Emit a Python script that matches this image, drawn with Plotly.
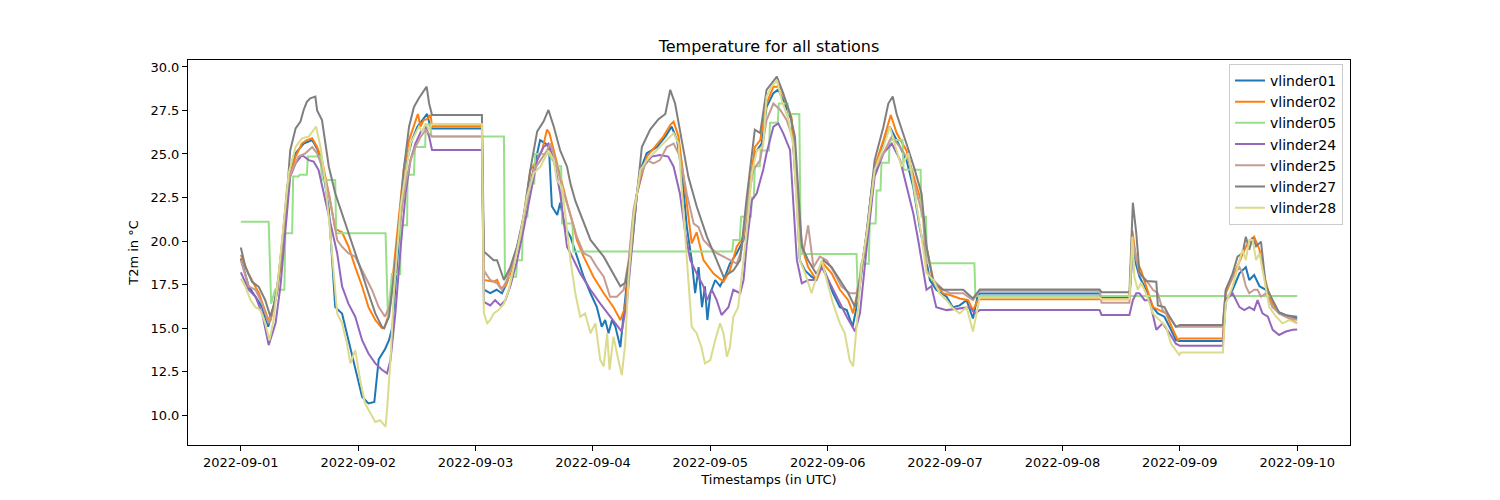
import pandas as pd
import plotly.graph_objects as go

START = "2022-09-01 00:00"

stations = ["vlinder01", "vlinder02", "vlinder05", "vlinder24", "vlinder25", "vlinder27", "vlinder28"]

v01_hours = [0, 1.6, 3.0, 4.35, 5.6, 6.7, 7.75, 8.8, 9.8, 11.2, 12.85, 14.6, 15.6, 16.6, 18, 19.3, 20.7, 22, 23.4, 24.8, 26.1, 27.3, 28.2, 29.5, 30.3, 31.0, 32, 33, 34, 35, 36.1, 37.1, 38.1, 38.7, 39.1, 49.3, 49.7, 51.0, 52.3, 53.4, 54.4, 55.8, 57.2, 58.5, 59.9, 61.2, 62.3, 63.0, 63.6, 64.7, 65.3, 66.3, 67.4, 68.7, 70.1, 71.5, 72.8, 73.8, 74.5, 75.2, 75.9, 76.6, 77.6, 78.3, 79.3, 80.3, 81.7, 83, 85.1, 86.8, 88.1, 89.2, 90.2, 91.2, 92.2, 92.9, 93.6, 94.3, 94.9, 95.4, 96, 97, 98, 99, 100, 101.4, 102.8, 104.1, 105.1, 106.5, 107.5, 108.9, 109.9, 110.9, 112.6, 113.7, 114.3, 115.4, 116.7, 117.7, 118.8, 119.8, 121.1, 122.5, 123.9, 125.1, 126.2, 127.6, 129.3, 131.4, 132.7, 134.1, 136.1, 137.5, 138.8, 139.9, 140.9, 142.2, 144.3, 145.6, 147, 148.4, 149.7, 150.7, 151.1, 175.6, 176, 181.7, 182.4, 183.1, 183.75, 185.1, 186.5, 187.5, 188.85, 190.2, 191.2, 191.9, 200.8, 201.4, 202.8, 204.2, 205.5, 206.2, 207.2, 208.3, 209.6, 211, 212.3, 213.7, 216]
v01_temp = [19.0, 17.4, 16.8, 16.2, 15.07, 16.2, 17.95, 20.06, 23.5, 25.04, 25.6, 25.8, 25.3, 24.46, 21.8, 16.2, 15.84, 14.3, 12.6, 11.05, 10.67, 10.75, 13.2, 13.8, 14.3, 15.07, 18.9, 22.4, 24.65, 25.8, 26.57, 26.95, 27.3, 26.6, 26.47, 26.47, 17.2, 17.0, 17.2, 17.0, 17.6, 18.9, 20.44, 22.4, 24.1, 25.8, 25.6, 25.4, 22.0, 21.5, 22.2, 20.8, 20.25, 19.1, 17.95, 17.0, 16.2, 15.07, 15.46, 14.7, 15.46, 15.07, 13.9, 15.84, 18.5, 21.4, 24.08, 25.04, 25.4, 26.0, 26.57, 25.8, 23.9, 20.8, 18.9, 17.0, 18.5, 16.2, 17.4, 15.46, 17.0, 17.76, 17.4, 17.95, 18.7, 19.3, 20.06, 23.1, 25.04, 25.6, 27.7, 28.5, 28.7, 28.1, 26.95, 22.35, 18.9, 18.3, 17.95, 17.76, 18.7, 17.95, 17.0, 16.2, 16.03, 15.07, 16.6, 19.67, 23.7, 25.6, 26.57, 25.8, 24.65, 23.1, 20.8, 19.3, 17.76, 17.2, 16.8, 16.2, 16.3, 16.6, 15.55, 16.9, 16.99, 16.99, 16.75, 16.75, 19.6, 18.6, 17.95, 17.2, 16.2, 15.84, 15.65, 14.9, 14.3, 14.25, 14.25, 16.6, 17.2, 18.14, 18.5, 17.76, 18.05, 17.4, 17.2, 16.2, 15.9, 15.74, 15.55]

v02_hours = [0, 1.6, 3.7, 5.4, 6.05, 7.4, 8.8, 9.8, 11.2, 12.5, 13.5, 14.6, 15.6, 16.6, 18, 19.3, 20.7, 22, 23.4, 24.8, 26.1, 27.5, 28.85, 29.3, 30.3, 31.3, 32.3, 33.3, 34.4, 35.4, 36.2, 36.75, 37.4, 38.1, 38.8, 39.1, 49.3, 49.7, 51.7, 52.4, 53.1, 54.1, 55.1, 56.5, 57.8, 59.2, 60.6, 61.6, 62.6, 63.1, 64, 65.3, 66.7, 68.1, 68.7, 70.1, 72.1, 74.2, 76.2, 77.6, 78.6, 79.6, 81, 83, 85.1, 86.4, 87.8, 88.5, 89.5, 90.9, 92.2, 93.2, 94.6, 96.6, 98.7, 100, 101.4, 102.8, 104.1, 105.1, 106.2, 107.5, 108.9, 110.3, 111.3, 112.6, 113.7, 114.7, 116, 117.7, 119.1, 120.8, 122.5, 124.2, 125.2, 126.6, 128, 129.6, 131.4, 132.9, 134.1, 136.1, 137.8, 139.2, 140.2, 141.6, 143.6, 145, 147, 148.7, 149.7, 150.7, 151.1, 181.7, 182.3, 183.1, 184.1, 185.1, 186.5, 187.8, 189.2, 190.6, 191.6, 192.0, 200.8, 201.4, 202.8, 204.2, 205.5, 206.5, 207.2, 208.3, 209.3, 210.6, 212.3, 213.7, 216]
v02_temp = [19.2, 18.1, 17.0, 15.65, 15.4, 17.0, 20.06, 23.5, 24.85, 25.6, 25.8, 25.9, 25.4, 24.65, 22.7, 20.7, 20.5, 19.7, 18.5, 17.4, 16.2, 15.46, 15.0, 14.98, 15.8, 18.5, 21.6, 24.08, 25.8, 26.57, 27.3, 26.57, 26.95, 27.0, 27.24, 26.6, 26.6, 17.76, 17.66, 17.76, 17.3, 17.4, 18.14, 19.5, 21.2, 24.08, 24.65, 25.2, 26.4, 26.2, 25.2, 23.7, 22.2, 20.8, 20.06, 19.1, 17.95, 17.0, 16.2, 15.46, 16.2, 18.9, 22.7, 24.85, 25.6, 26.0, 26.66, 26.86, 26.0, 22.9, 19.87, 20.5, 18.9, 18.14, 17.66, 18.3, 19.67, 20.25, 23.1, 25.4, 25.8, 27.9, 28.87, 28.87, 28.1, 27.1, 22.7, 19.67, 18.5, 17.76, 18.7, 18.14, 17.2, 16.6, 15.84, 17.76, 20.44, 24.27, 25.8, 27.24, 26.2, 25.2, 23.5, 22.2, 19.67, 17.76, 16.99, 16.9, 16.7, 16.6, 16.03, 16.6, 16.66, 16.66, 20.6, 18.9, 18.3, 17.4, 16.2, 16.03, 15.84, 14.9, 14.3, 14.4, 14.4, 17.0, 17.95, 18.9, 19.67, 20.06, 20.25, 19.5, 17.95, 16.6, 15.84, 15.65, 15.27]

v05_hours = [0, 5.7, 6.2, 7.0, 8.9, 9.1, 10.5, 10.7, 11.8, 12.0, 13.5, 13.7, 16.3, 16.6, 19.3, 19.5, 29.6, 30.1, 30.9, 32.6, 32.7, 34.0, 34.1, 35.4, 35.6, 37.7, 37.8, 38.7, 39.0, 53.8, 54.0, 56.3, 56.5, 57.5, 57.7, 58.6, 58.8, 60.0, 60.2, 63.0, 64.5, 65.5, 65.7, 67.8, 68.0, 100.5, 100.7, 102.0, 102.3, 104.3, 104.5, 104.9, 105.1, 106.1, 106.3, 108.0, 108.2, 109.8, 110.0, 111.8, 112.0, 114.2, 114.5, 125.9, 126.2, 126.8, 128.4, 128.6, 129.8, 130.0, 130.8, 131.0, 132.5, 132.7, 135.3, 135.5, 139.0, 139.2, 140.1, 140.3, 150.0, 150.2, 216]
v05_temp = [21.1, 21.1, 16.4, 17.2, 17.2, 20.44, 20.44, 23.7, 23.7, 23.8, 23.8, 24.85, 24.85, 23.5, 23.5, 20.44, 20.44, 15.5, 18.1, 18.1, 20.9, 20.9, 23.8, 23.8, 25.4, 25.4, 26.7, 26.7, 26.0, 26.0, 17.95, 17.95, 18.9, 18.9, 21.4, 21.4, 23.3, 23.3, 25.0, 25.0, 24.3, 24.3, 21.0, 21.0, 19.4, 19.4, 20.06, 20.06, 21.4, 21.4, 22.5, 22.5, 24.3, 24.3, 25.2, 25.2, 26.8, 26.8, 27.9, 27.9, 27.3, 27.3, 19.25, 19.25, 16.5, 18.7, 18.7, 21.0, 21.0, 22.9, 22.9, 24.5, 24.5, 25.8, 25.8, 24.1, 24.1, 21.4, 21.4, 18.72, 18.72, 16.84, 16.84]

v24_hours = [0, 1.6, 3.0, 4.35, 5.7, 7.1, 8.1, 9.1, 10.1, 11.2, 12.5, 13.9, 14.9, 15.9, 17.3, 18.6, 19.7, 20.7, 22, 23.4, 24.8, 26.1, 27.5, 28.85, 29.9, 30.6, 31.6, 32.7, 33.7, 34.7, 35.7, 36.8, 37.8, 38.5, 39.1, 49.3, 49.7, 51.0, 52, 53.1, 54.1, 55.1, 56.5, 57.8, 59.2, 60.6, 61.9, 62.9, 64, 65.3, 66.7, 67.4, 69.4, 71.5, 73.5, 75.5, 77.2, 77.9, 79, 80, 81, 82.3, 84, 85.7, 87.4, 88.5, 89.8, 90.9, 91.9, 93.2, 94.6, 95.3, 96.3, 97.3, 98.3, 99.7, 100.7, 102.1, 102.8, 103.4, 104.5, 105.5, 106.8, 107.5, 108.9, 109.9, 110.9, 112.3, 113, 113.7, 114.7, 116, 117.4, 118.8, 119.8, 121.1, 122.5, 123.9, 125.6, 126.6, 128, 129.6, 131.4, 133.1, 134.8, 136.1, 137.5, 138.5, 139.5, 140.2, 141.2, 142.2, 144.3, 147, 149, 150.1, 151.1, 175.6, 176, 181.7, 182.4, 183.1, 183.75, 184.8, 185.8, 187.2, 188.5, 189.9, 191.2, 192, 200.8, 201.4, 202.8, 204.2, 205.2, 206.2, 207.2, 207.9, 208.9, 210, 211, 212.3, 213.7, 215.1, 216]
v24_temp = [18.2, 17.2, 16.8, 15.84, 14.02, 15.27, 17.4, 20.44, 23.7, 24.46, 24.94, 24.65, 24.56, 24.08, 22.35, 20.8, 19.3, 17.4, 16.4, 15.65, 14.3, 13.54, 12.97, 12.6, 12.4, 13.16, 15.84, 19.67, 22.74, 24.65, 25.6, 26.28, 26.57, 26.0, 25.23, 25.23, 16.5, 16.3, 16.6, 16.3, 16.6, 17.4, 18.9, 20.63, 22.74, 24.65, 25.4, 25.6, 24.65, 22.74, 19.67, 19.3, 18.14, 17.2, 16.4, 15.65, 15.07, 14.8, 16.6, 19.67, 22.74, 24.27, 24.85, 24.94, 24.85, 24.27, 22.7, 20.44, 18.9, 18.14, 17.4, 16.6, 17.2, 16.6, 15.75, 16.2, 17.2, 17.0, 17.76, 19.67, 22.35, 22.74, 24.08, 25.04, 26.57, 26.76, 26.2, 25.23, 21.8, 18.9, 17.57, 17.76, 17.76, 18.5, 17.95, 17.2, 16.4, 15.65, 14.8, 15.84, 19.67, 23.7, 25.04, 25.6, 24.65, 23.1, 21.6, 20.06, 18.5, 17.2, 17.4, 16.2, 16.03, 16.13, 16.2, 15.84, 16.03, 16.03, 15.75, 15.75, 16.6, 17.0, 17.0, 16.6, 16.6, 14.9, 15.27, 14.7, 14.1, 13.98, 13.98, 16.6, 17.0, 16.2, 16.03, 16.2, 16.03, 16.6, 15.84, 15.65, 14.9, 14.6, 14.8, 14.9, 14.92]

v25_hours = [0, 1.6, 3.0, 4.35, 5.7, 7.1, 8.4, 9.45, 10.5, 11.8, 13.2, 14.6, 15.6, 16.6, 18, 19.7, 20.7, 22, 23.4, 24.1, 25.4, 26.8, 28.2, 29.5, 30.6, 31.6, 32.7, 33.7, 34.7, 35.7, 36.8, 37.8, 38.5, 39.1, 49.3, 49.7, 51.0, 52.4, 53.4, 54.4, 55.8, 57.2, 58.5, 59.9, 61.3, 62.6, 63.3, 64.3, 65.7, 67, 68.7, 70.1, 71.5, 72.8, 74.2, 75.5, 76.9, 78.3, 79.3, 80.3, 81.7, 83, 84.4, 85.7, 87.1, 88.5, 89.8, 91.2, 92.6, 93.6, 94.6, 95.9, 97.3, 98.7, 100, 101.4, 102.4, 103.4, 104.8, 106.2, 107.5, 108.9, 110.3, 111.6, 113, 114, 115, 116, 117.1, 118.4, 119.8, 121.1, 122.8, 124.5, 125.9, 126.6, 128, 129.6, 131.4, 133.1, 134.8, 136.5, 138.2, 139.5, 140.2, 141.6, 143.6, 145, 147.7, 149.7, 151.1, 175.6, 176, 181.7, 182.4, 183.1, 183.75, 185.1, 186.5, 187.5, 188.5, 189.9, 191.2, 200.8, 201.4, 202.8, 204.2, 204.85, 205.5, 206.2, 207.2, 207.9, 208.6, 209.6, 211, 212.3, 213.7, 216]
v25_temp = [18.9, 17.4, 17.2, 16.4, 15.27, 16.6, 19.67, 23.1, 24.08, 24.85, 25.04, 25.4, 25.04, 24.27, 22.74, 20.06, 19.67, 19.3, 19.1, 18.7, 17.95, 17.2, 16.2, 15.65, 16.4, 18.9, 21.4, 23.3, 24.65, 25.4, 26.0, 26.38, 26.2, 26.0, 26.0, 18.3, 17.76, 17.57, 17.2, 17.76, 18.9, 20.25, 22.35, 24.08, 24.65, 25.2, 25.6, 24.65, 23.1, 21.8, 20.25, 19.3, 19.1, 18.5, 17.95, 16.8, 16.8, 17.2, 18.9, 21.8, 23.7, 24.65, 24.46, 24.65, 25.4, 25.6, 24.85, 22.7, 21.0, 20.8, 20.06, 19.67, 19.3, 19.1, 18.9, 18.7, 19.5, 21.8, 24.08, 24.65, 26.95, 27.9, 27.53, 26.95, 25.8, 21.8, 19.3, 20.9, 18.5, 19.1, 18.9, 18.3, 17.4, 17.0, 17.0, 17.95, 20.44, 24.08, 25.04, 26.0, 25.4, 24.65, 22.74, 21.4, 18.3, 17.76, 17.2, 17.0, 17.0, 16.6, 17.14, 17.14, 16.45, 16.45, 20.0, 18.9, 18.1, 17.76, 17.2, 17.0, 16.03, 15.65, 15.07, 15.07, 17.2, 17.95, 18.5, 18.14, 17.4, 17.0, 17.2, 17.2, 16.8, 17.0, 16.2, 15.84, 15.65, 15.46]

v27_hours = [0, 0.95, 2.3, 3.67, 5.0, 6.05, 7.4, 8.4, 9.45, 10.1, 11.2, 12.2, 12.85, 13.5, 14.2, 15.24, 15.6, 16.6, 18, 19.3, 20.7, 22, 23.4, 24.8, 26.1, 27.5, 28.85, 29.3, 30.3, 31.3, 32.3, 33.3, 34.4, 35.4, 36.4, 37.1, 38, 38.5, 39.1, 49.3, 49.7, 51.7, 52.4, 53.8, 55.1, 56.5, 57.8, 59.2, 60.6, 61.9, 62.9, 64, 65.3, 66.7, 67.4, 68.4, 69.4, 71.5, 74.2, 76.2, 77.6, 78.6, 80, 81, 82, 83.7, 85.4, 86.8, 87.8, 88.8, 90.2, 91.5, 93.2, 95.3, 97.3, 98.7, 100.7, 102.1, 103.4, 105.1, 106.2, 107.5, 108.55, 109.6, 110.9, 112.3, 113.3, 114, 114.7, 116, 117.7, 119.1, 120.8, 122.5, 124.2, 125.6, 126.6, 128, 129.6, 131.4, 132.4, 133.3, 134.1, 136.1, 137.8, 139.2, 140.2, 141.6, 143.6, 145, 147.7, 149.7, 151.1, 175.6, 176, 181.7, 182.4, 183.1, 183.75, 185.1, 187.2, 187.5, 188.85, 189.9, 191.2, 192, 200.8, 201.4, 202.8, 203.8, 204.85, 205.5, 206.2, 206.9, 207.6, 208.6, 209.6, 211, 212.3, 213.7, 216]
v27_temp = [19.63, 18.5, 17.66, 17.37, 16.6, 15.65, 17.0, 19.7, 22.74, 25.2, 26.47, 26.86, 27.53, 28.0, 28.2, 28.3, 27.5, 26.95, 24.27, 22.74, 21.6, 20.44, 19.3, 18.14, 17.0, 15.84, 15.07, 15.0, 15.65, 17.95, 20.8, 24.08, 26.57, 27.7, 28.2, 28.5, 28.87, 27.9, 27.24, 27.24, 19.4, 18.9, 18.9, 17.76, 18.5, 19.7, 21.4, 24.1, 26.3, 26.86, 27.53, 26.57, 25.2, 24.27, 23.3, 22.3, 21.6, 20.06, 19.1, 18.1, 17.4, 17.6, 19.7, 22.7, 25.4, 26.4, 27.0, 27.3, 28.68, 27.9, 25.8, 23.7, 22.0, 20.25, 18.9, 17.95, 18.3, 18.9, 22.4, 26.4, 26.2, 28.68, 29.06, 29.44, 28.5, 27.3, 26.0, 22.7, 19.7, 18.9, 18.1, 18.9, 18.5, 17.76, 17.0, 16.2, 17.76, 20.44, 24.65, 26.57, 27.9, 28.3, 27.3, 25.6, 24.1, 22.7, 19.7, 17.6, 17.2, 17.2, 17.2, 16.7, 17.22, 17.22, 17.05, 17.05, 22.2, 20.44, 18.2, 17.7, 17.66, 16.3, 16.2, 15.65, 15.07, 15.17, 15.17, 17.2, 18.14, 19.1, 19.3, 20.25, 19.5, 20.2, 19.7, 19.96, 17.4, 16.6, 15.9, 15.74, 15.65]

v28_hours = [0, 0.95, 2, 3.0, 4.0, 5.0, 5.85, 6.7, 7.75, 8.8, 9.8, 11.2, 12.5, 13.9, 14.9, 15.4, 16.3, 17.3, 18.3, 19.0, 19.7, 20.7, 21.7, 22.4, 23.4, 24.4, 25.4, 26.5, 27.5, 28.5, 29.6, 29.9, 30.6, 31.3, 32, 32.7, 33.7, 34.7, 35.4, 36.4, 37.1, 37.8, 38.5, 39.1, 49.3, 49.7, 50.4, 51.0, 51.7, 52.7, 53.8, 54.8, 55.8, 57.2, 58.5, 59.9, 61.3, 62.3, 62.9, 64, 64.6, 65.7, 66.7, 67.4, 68.4, 69.4, 70.4, 71.5, 72.5, 73.5, 74.2, 74.9, 75.4, 76.2, 77.2, 77.9, 78.6, 79.3, 80.3, 81.7, 83, 84.4, 85.7, 87.1, 88.5, 89.5, 90.5, 91.5, 92.2, 93.2, 94.2, 94.9, 96, 97, 98, 98.7, 99.4, 100, 100.7, 101.7, 102.4, 103.4, 104.5, 105.5, 106.8, 107.5, 108.55, 109.6, 110.6, 112, 113, 113.7, 114.3, 115.4, 116.7, 117.7, 118.8, 119.8, 121.1, 122.5, 123.5, 124.5, 125.2, 125.9, 126.9, 128, 129.6, 131.4, 132.7, 134.1, 135.1, 136.5, 137.8, 139.2, 140.2, 141.6, 142.9, 144.3, 145.6, 147, 148.4, 149.7, 150.7, 151.1, 175.6, 176, 181.7, 182.3, 182.7, 183.4, 184.1, 185.1, 186.5, 187.8, 189.2, 190.2, 191.2, 191.9, 192.2, 200.8, 201.4, 202.8, 204.2, 204.85, 205.5, 206.2, 206.9, 207.6, 208.3, 209.3, 210.3, 211.7, 213, 214.4, 216]
v28_temp = [17.85, 17.37, 16.6, 16.2, 16.03, 15.27, 14.3, 15.46, 18.14, 21.2, 23.9, 25.4, 25.9, 26.0, 26.4, 26.57, 25.4, 23.3, 20.44, 18.14, 15.84, 15.27, 14.1, 12.97, 13.73, 12.0, 10.67, 10.1, 9.6, 9.7, 9.33, 10.3, 13.16, 17.0, 19.5, 22.0, 23.9, 25.6, 26.0, 26.57, 26.28, 26.76, 26.38, 26.72, 26.72, 15.84, 15.27, 15.46, 15.84, 16.03, 16.4, 17.2, 18.5, 20.44, 22.55, 23.9, 24.27, 24.85, 25.2, 24.65, 23.5, 23.1, 20.8, 18.9, 17.0, 15.65, 15.84, 14.7, 15.27, 13.16, 12.8, 14.7, 12.6, 14.5, 13.16, 12.3, 14.1, 17.95, 21.4, 24.08, 24.65, 25.04, 25.4, 25.8, 26.2, 25.6, 21.8, 17.95, 15.07, 14.7, 13.9, 12.97, 13.16, 14.3, 15.27, 14.7, 13.35, 13.9, 15.65, 16.2, 17.95, 20.44, 23.9, 25.2, 25.4, 28.3, 28.87, 29.25, 28.1, 26.95, 25.4, 21.8, 18.9, 18.14, 17.0, 17.95, 18.9, 17.76, 16.4, 15.27, 14.7, 13.16, 12.8, 15.07, 18.5, 20.44, 24.08, 25.4, 26.57, 25.2, 24.27, 25.04, 22.74, 20.25, 18.14, 17.76, 16.99, 16.6, 16.13, 15.84, 16.2, 14.8, 16.2, 16.76, 16.76, 16.66, 16.66, 20.25, 17.95, 17.2, 17.6, 16.99, 15.84, 15.46, 15.07, 14.1, 13.73, 13.45, 13.6, 13.6, 16.4, 17.4, 18.9, 19.5, 18.9, 20.06, 20.06, 18.9, 19.3, 17.76, 16.2, 15.65, 15.27, 15.46, 15.27]

series_hours = [v01_hours, v02_hours, v05_hours, v24_hours, v25_hours, v27_hours, v28_hours]
series_temp = [v01_temp, v02_temp, v05_temp, v24_temp, v25_temp, v27_temp, v28_temp]
colors = ["#1f77b4", "#ff7f0e", "#98df8a", "#9467bd", "#c49c94", "#7f7f7f", "#dbdb8d"]

tick_labels = ["2022-09-01", "2022-09-02", "2022-09-03", "2022-09-04", "2022-09-05",
               "2022-09-06", "2022-09-07", "2022-09-08", "2022-09-09", "2022-09-10"]

base = pd.Timestamp(START)
fig = go.Figure()
for name, hrs, temps, col in zip(stations, series_hours, series_temp, colors):
    times = base + pd.to_timedelta(hrs, unit="h")
    fig.add_trace(go.Scatter(x=times, y=temps, mode="lines", name=name,
                             line=dict(color=col, width=2)))

t0 = base - pd.Timedelta(hours=10.8)
t1 = base + pd.Timedelta(hours=216 + 10.8)

font = "DejaVu Sans, Arial, sans-serif"
fig.update_layout(
    width=1500, height=500,
    margin=dict(l=188, r=150, t=60, b=55),
    paper_bgcolor="white", plot_bgcolor="white",
    font=dict(family=font, size=13, color="black"),
    title=dict(text="Temperature for all stations", x=0.5, xref="paper",
               y=1 - 46 / 500, yref="container", yanchor="middle",
               font=dict(size=16, color="black")),
    showlegend=True,
    legend=dict(x=0.994, xanchor="right", y=0.99, yanchor="top",
                bgcolor="rgba(255,255,255,0.8)", bordercolor="#cccccc", borderwidth=1,
                font=dict(size=14, color="black"), tracegroupgap=0),
)
fig.update_xaxes(
    type="date", range=[t0, t1],
    tickvals=[pd.Timestamp(t) for t in tick_labels], ticktext=tick_labels,
    showline=True, linecolor="black", linewidth=1, mirror=True,
    ticks="outside", ticklen=5, tickcolor="black", showgrid=False, zeroline=False,
    tickfont=dict(size=13),
    title=dict(text="Timestamps (in UTC)", font=dict(size=13), standoff=6),
)
fig.update_yaxes(
    range=[8.28, 30.40], tick0=10, dtick=2.5, tickformat=".1f",
    showline=True, linecolor="black", linewidth=1, mirror=True,
    ticks="outside", ticklen=5, tickcolor="black", showgrid=False, zeroline=False,
    tickfont=dict(size=13),
    title=dict(text="T2m in °C", font=dict(size=13), standoff=8),
)

fig.write_html("out.html")
